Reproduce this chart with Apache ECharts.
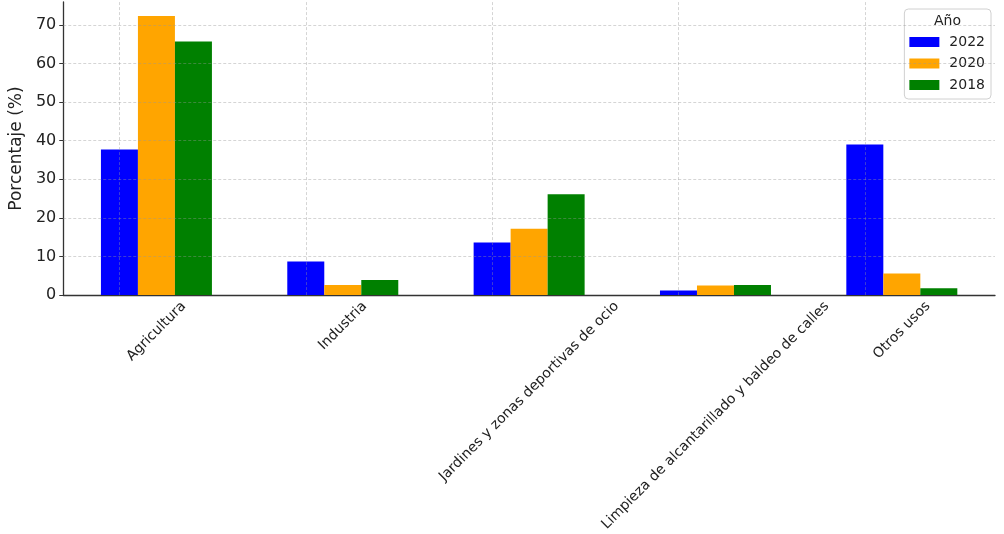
<!DOCTYPE html>
<html>
<head>
<meta charset="utf-8">
<script src="https://cdn.jsdelivr.net/npm/echarts@6/dist/echarts.min.js"></script>
<style>html,body{margin:0;padding:0;background:#fff}#c{width:1004px;height:534px}</style>
</head>
<body>
<div id="c"></div>
<script>
const categories = ['Agricultura', 'Industria', 'Jardines y zonas deportivas de ocio', 'Limpieza de alcantarillado y baldeo de calles', 'Otros usos'];
const years = ['2022', '2020', '2018'];
const v2022 = [37.7, 8.7, 13.6, 1.2, 39.0];
const v2020 = [72.3, 2.6, 17.2, 2.5, 5.6];
const v2018 = [65.7, 3.9, 26.1, 2.6, 1.8];
const yTicks = [0, 10, 20, 30, 40, 50, 60, 70];
const colors = ['#0000ff', '#ffa500', '#008000'];
const FONT = '"DejaVu Sans", sans-serif';
const XFS = 14;

const ctx = document.createElement('canvas').getContext('2d');
ctx.font = XFS + 'px "DejaVu Sans"';
const rich = {};
categories.forEach((c, i) => {
  const L = ctx.measureText(c).width;
  rich['c' + i] = { fontSize: XFS, fontFamily: FONT, color: '#222', padding: [L / 2, L / 2, 0, 0] };
});

const gridLines = categories.map(c => ({ xAxis: c })).concat(yTicks.slice(1).map(v => ({ yAxis: v })));

const chart = echarts.init(document.getElementById('c'));
const values = [v2022, v2020, v2018];
chart.setOption({
  animation: false,
  textStyle: { fontFamily: FONT },
  title: { text: 'Año', left: 934, top: 14, padding: 0, textStyle: { fontSize: 14, fontWeight: 'normal', color: '#222', fontFamily: FONT } },
  legend: {
    data: years, orient: 'vertical', right: 13, top: 9,
    padding: [26, 6, 7, 5], itemGap: 7.5, itemWidth: 30, itemHeight: 10,
    borderColor: '#d0d0d0', borderWidth: 1, borderRadius: 4, backgroundColor: '#fff',
    textStyle: { fontSize: 14, color: '#222', fontFamily: FONT, padding: [0, 0, 0, 5] },
    icon: 'rect'
  },
  grid: { left: 60, right: 9, top: 2, bottom: 238, containLabel: false },
  xAxis: {
    type: 'category', data: categories,
    axisLine: { lineStyle: { color: '#333', width: 1.3 } },
    axisTick: { alignWithLabel: true, length: 4, lineStyle: { color: '#333' } },
    axisLabel: {
      interval: 0, rotate: 45, margin: 9, align: 'center', verticalAlign: 'middle',
      fontSize: XFS, color: '#222', fontFamily: FONT,
      formatter: (v, i) => '{c' + i + '|' + v + '}', rich: rich
    },
    splitLine: { show: false }
  },
  yAxis: {
    type: 'value', min: 0, max: 75.9, interval: 10,
    name: 'Porcentaje (%)', nameLocation: 'middle', nameGap: 37,
    nameTextStyle: { fontSize: 17, color: '#222', fontFamily: FONT },
    axisLine: { show: true, lineStyle: { color: '#333', width: 1.3 } },
    axisTick: { show: true, length: 4, lineStyle: { color: '#333' } },
    axisLabel: { fontSize: 16, color: '#222', margin: 7, showMaxLabel: false, fontFamily: FONT },
    splitLine: { show: false }
  },
  series: years.map((y, k) => ({
    name: y, type: 'bar', data: values[k], barWidth: 37, barGap: '0%',
    itemStyle: { color: colors[k] },
    markLine: k === 0 ? {
      silent: true, symbol: 'none', label: { show: false },
      lineStyle: { type: [3, 2], color: 'rgba(150,150,150,0.5)', width: 0.8 },
      data: gridLines
    } : undefined
  }))
});
</script>
</body>
</html>
